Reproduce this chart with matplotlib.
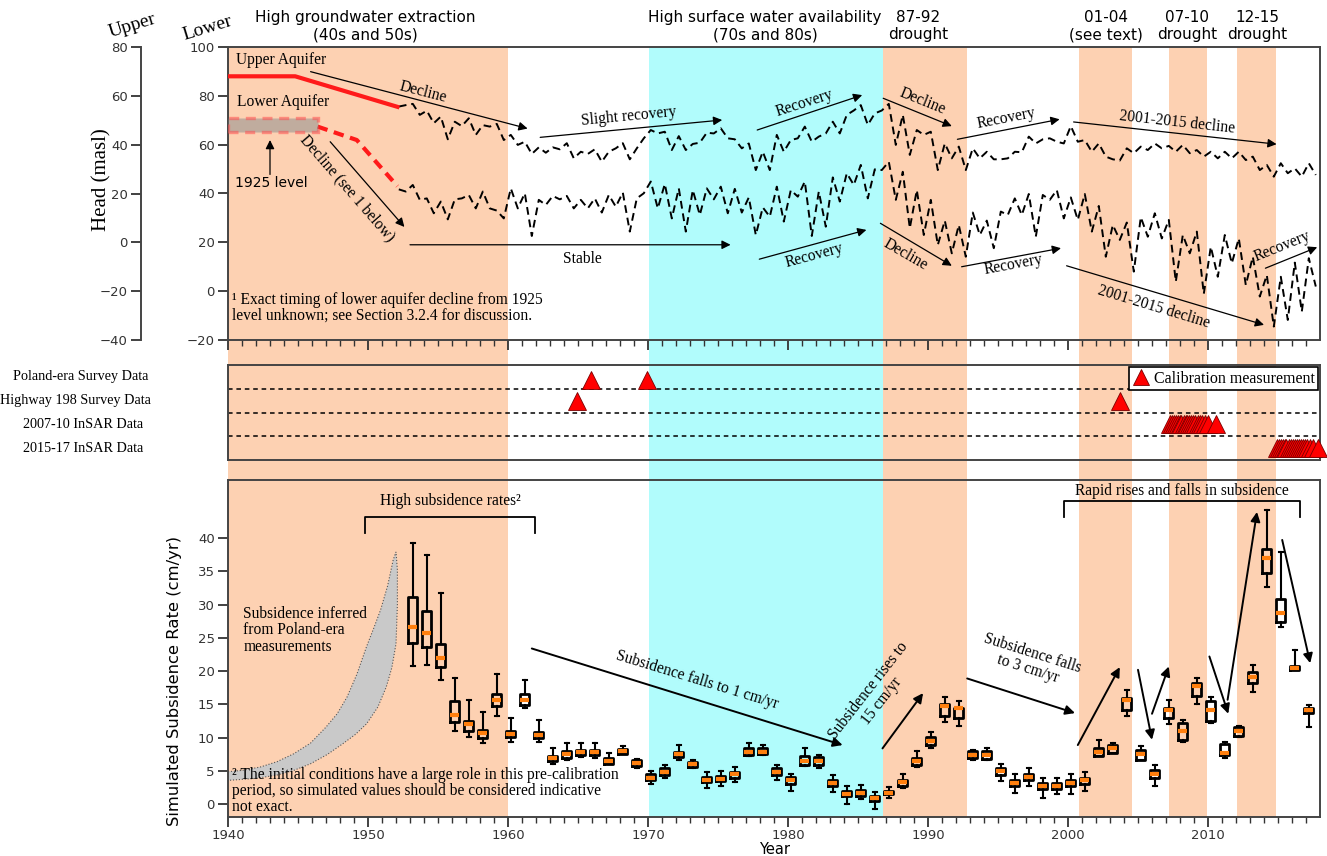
import numpy as np
import matplotlib
matplotlib.use('Agg')
import matplotlib.pyplot as plt
import matplotlib.transforms as mtransforms
from matplotlib.patches import Rectangle
from matplotlib.lines import Line2D

# ---- hydraulic head, half-yearly samples starting 1952.2 (masl, lower-aquifer scale)
head_start = 1952.2
head_step = 0.5
upper_head = [75.6, 76.2, 76.7, 72.2, 73.9, 68.8, 71.5, 62.2, 69.4, 67.6,
              70.8, 64.0, 68.0, 67.4, 68.5, 61.9, 64.0, 59.9, 61.2, 56.2,
              58.9, 56.7, 58.9, 58.1, 60.6, 54.4, 57.1, 56.2, 58.1, 53.0,
              57.1, 58.5, 60.6, 54.0, 58.5, 62.6, 66.0, 64.6, 65.3, 57.8,
              63.5, 57.8, 60.3, 60.8, 64.9, 64.6, 66.7, 62.6, 62.2, 58.5,
              60.5, 49.6, 57.1, 49.6, 64.0, 57.1, 61.9, 62.6, 67.4, 61.2,
              63.3, 64.6, 69.4, 64.6, 72.2, 74.0, 76.2, 68.1, 72.8, 74.0,
              76.7, 59.9, 72.2, 55.8, 66.0, 64.0, 65.3, 49.6, 60.5, 54.4,
              59.2, 49.6, 58.5, 54.4, 57.1, 54.0, 54.0, 54.4, 57.1, 56.9,
              63.3, 60.5, 62.2, 62.6, 61.2, 60.5, 67.6, 61.2, 61.9, 57.1,
              60.5, 55.1, 54.0, 53.5, 58.5, 56.5, 59.2, 57.8, 60.5, 58.5,
              59.5, 57.1, 59.9, 56.5, 57.8, 55.1, 57.1, 54.4, 57.1, 54.4,
              57.1, 53.7, 55.1, 49.6, 51.7, 46.9, 52.4, 48.3, 50.3, 46.9,
              52.4, 47.6]
lower_head = [41.7, 40.8, 43.5, 37.4, 38.0, 31.9, 36.7, 29.4, 37.6, 38.0,
              39.4, 33.9, 40.8, 33.9, 33.0, 29.8, 42.1, 33.9, 40.1, 22.6,
              37.4, 35.3, 39.0, 37.6, 39.0, 33.9, 37.4, 33.9, 38.0, 32.2,
              39.4, 34.6, 40.4, 24.4, 38.0, 40.1, 44.9, 33.9, 43.9, 29.8,
              42.1, 24.4, 41.4, 31.2, 42.1, 37.6, 42.8, 31.9, 41.9, 32.2,
              38.4, 23.0, 34.3, 30.5, 42.8, 28.5, 41.4, 38.7, 44.9, 22.6,
              40.8, 26.4, 46.6, 36.7, 48.3, 43.5, 51.7, 38.0, 49.9, 49.6,
              53.0, 37.4, 48.9, 25.8, 41.4, 23.0, 37.4, 18.9, 28.9, 15.5,
              27.1, 14.1, 32.2, 23.0, 28.9, 17.6, 32.6, 31.2, 38.0, 31.2,
              39.8, 22.3, 39.4, 37.4, 41.4, 29.8, 38.4, 29.2, 39.8, 24.4,
              34.9, 14.1, 27.1, 21.0, 28.1, 8.0, 30.3, 22.3, 31.9, 21.6,
              29.2, 3.9, 23.0, 15.5, 24.4, -1.1, 18.2, 5.9, 23.0, 11.4,
              21.6, 2.5, 14.1, -2.2, 6.6, -14.5, 5.9, -11.8, 11.7, -8.4,
              13.5, 1.9]

# early pre-record heads
upper_early_yr = [1940.0, 1944.8, 1952.1]
upper_early_head = [88.0, 88.0, 75.5]
lower_early_yr = [1946.4, 1949.2, 1952.1]
lower_early_head = [67.4, 61.9, 43.0]
level_1925 = (65.3, 70.8)          # head range of the 1925 level
level_1925_end = 1946.4

# ---- climate periods
dry_periods = [(1940.0, 1960.0), (1986.8, 1992.8), (2000.75, 2004.6),
               (2007.2, 2009.9), (2012.1, 2014.85)]
wet_periods = [(1970.05, 1986.8)]

# ---- calibration data availability
poland_yr = [1965.9, 1969.9]
hwy198_yr = [1964.9, 2003.7]
insar_0710_yr = [2007.3, 2007.45, 2007.6, 2007.7, 2007.85, 2008.0, 2008.1,
                 2008.25, 2008.4, 2008.5, 2008.65, 2008.8, 2008.95, 2009.1,
                 2009.3, 2009.45, 2009.6, 2009.8, 2010.0, 2010.6]
insar_1517_yr = [2014.9, 2015.05, 2015.2, 2015.35, 2015.5, 2015.6, 2015.75,
                 2015.9, 2016.05, 2016.2, 2016.35, 2016.5, 2016.65, 2016.8,
                 2016.95, 2017.1, 2017.3, 2017.5, 2017.85]
data_rows = ['Poland-era Survey Data', 'Highway 198 Survey Data',
             '2007-10 InSAR Data', '2015-17 InSAR Data']

# ---- simulated subsidence rate (cm/yr) box statistics
sub_years = list(range(1953, 2018))
sub_med = [26.6, 25.7, 21.9, 13.4, 12.0, 10.7, 15.7, 10.5, 15.7, 10.4,
           7.0, 7.6, 7.8, 7.8, 6.5, 8.0, 6.2, 4.0, 4.85, 7.5,
           6.0, 3.7, 3.85, 4.5, 7.9, 7.9, 4.85, 3.6, 6.5, 6.5,
           3.2, 1.6, 1.7, 0.95, 1.75, 3.3, 6.5, 9.5, 14.7, 14.4,
           7.4, 7.4, 4.95, 3.2, 4.1, 2.8, 2.8, 3.2, 3.6, 7.9,
           8.4, 15.6, 7.5, 4.5, 14.1, 11.0, 17.7, 14.2, 7.7, 11.0,
           19.1, 37.0, 28.7, 20.5, 14.1]
sub_q1 = [24.3, 23.7, 20.6, 12.4, 11.0, 10.0, 14.7, 10.1, 14.9, 10.0,
          6.5, 6.9, 7.4, 7.4, 6.1, 7.6, 5.8, 3.7, 4.4, 7.1,
          5.6, 3.3, 3.5, 4.0, 7.4, 7.5, 4.4, 3.1, 5.9, 5.9,
          2.7, 1.2, 1.3, 0.5, 1.5, 2.8, 5.9, 8.9, 13.2, 12.9,
          6.9, 6.8, 4.4, 2.8, 3.6, 2.3, 2.3, 2.7, 3.0, 7.3,
          7.7, 14.2, 6.7, 4.0, 13.0, 9.6, 16.2, 12.5, 7.4, 10.3,
          18.2, 34.7, 27.4, 20.2, 13.7]
sub_q3 = [31.2, 29.0, 24.1, 15.5, 12.5, 11.2, 16.5, 11.0, 16.6, 10.8,
          7.2, 8.0, 8.1, 8.2, 6.9, 8.3, 6.6, 4.5, 5.4, 7.9,
          6.4, 4.1, 4.2, 4.9, 8.4, 8.4, 5.4, 4.1, 7.2, 7.1,
          3.6, 2.0, 2.1, 1.3, 2.0, 3.7, 7.0, 10.1, 15.1, 14.5,
          8.0, 8.0, 5.5, 3.7, 4.5, 3.2, 3.2, 3.7, 4.0, 8.4,
          8.9, 15.9, 8.1, 5.2, 14.4, 12.2, 18.2, 15.5, 9.1, 11.6,
          19.8, 38.4, 30.9, 20.8, 14.5]
sub_lo = [20.8, 20.9, 18.7, 11.0, 10.1, 9.2, 13.2, 9.4, 14.4, 9.4,
          6.1, 6.7, 7.1, 7.0, 6.1, 7.5, 5.5, 3.1, 4.0, 6.6,
          5.4, 2.5, 2.8, 3.4, 7.2, 7.4, 3.7, 2.0, 5.7, 5.5,
          1.9, 0.1, 0.86, -0.65, 1.0, 2.5, 5.6, 8.4, 12.3, 11.7,
          6.7, 6.7, 3.5, 1.7, 2.7, 0.9, 1.6, 1.5, 2.0, 7.2,
          7.7, 13.2, 6.6, 2.7, 12.0, 9.4, 15.0, 12.2, 7.0, 10.1,
          16.9, 32.6, 26.7, 20.2, 11.6]
sub_hi = [39.3, 37.5, 31.7, 18.9, 15.7, 13.9, 19.6, 13.0, 18.6, 12.7,
          8.4, 9.2, 9.2, 9.2, 7.7, 8.7, 6.8, 5.0, 5.9, 8.9,
          6.7, 4.9, 5.0, 5.6, 9.2, 8.9, 5.9, 4.6, 8.5, 7.4,
          4.4, 2.7, 2.9, 1.9, 2.6, 4.5, 8.0, 10.8, 16.1, 15.5,
          8.2, 8.5, 6.0, 4.5, 5.5, 4.0, 4.0, 4.6, 4.9, 9.6,
          9.2, 17.1, 8.7, 5.9, 15.7, 12.6, 18.9, 16.1, 9.4, 11.8,
          20.9, 44.2, 37.9, 23.1, 14.9]

# subsidence inferred from Poland-era measurements (envelope)
inferred_top_x = [1940.0, 1941.0, 1942.3, 1943.5, 1944.7, 1945.9, 1947.0, 1947.8,
                  1948.5, 1949.2, 1949.9, 1950.4, 1950.9, 1951.4, 1951.8, 1952.0]
inferred_top_y = [4.9, 5.1, 5.6, 6.4, 7.6, 9.2, 11.6, 13.6,
                  16.1, 19.5, 23.7, 26.4, 29.2, 32.8, 36.7, 37.9]
inferred_bot_x = [1952.1, 1952.1, 1952.0, 1951.7, 1951.3, 1950.7, 1949.9, 1949.1,
                  1948.2, 1947.1, 1945.9, 1944.7, 1943.5, 1942.0, 1940.0]
inferred_bot_y = [35.2, 30.0, 24.1, 20.5, 17.6, 14.6, 12.1, 10.5,
                  9.1, 7.5, 6.1, 5.1, 4.4, 3.9, 3.6]

# ---------------------------------------------------------------------------
W, H = 1327, 856
DRY = '#fdd1b2'
WET = '#b1fcfc'
SERIF = 'Liberation Serif'
plt.rcParams['font.family'] = 'DejaVu Sans'


def frame(px_left, px_top, px_right, px_bottom):
    return [px_left / W, 1 - px_bottom / H, (px_right - px_left) / W, (px_bottom - px_top) / H]


fig = plt.figure(figsize=(W / 100, H / 100), dpi=100)

# background shading shared by all three panels
ax_bg = fig.add_axes(frame(228, 47, 1320, 817))
ax_bg.set_xlim(1940, 2018)
ax_bg.set_ylim(0, 1)
ax_bg.axis('off')
for a, b in dry_periods:
    ax_bg.axvspan(a, b, color=DRY, lw=0)
for a, b in wet_periods:
    ax_bg.axvspan(a, b, color=WET, lw=0)

ax_top = fig.add_axes(frame(228, 47, 1320, 340))
ax_mid = fig.add_axes(frame(228, 365, 1320, 460))
ax_bot = fig.add_axes(frame(228, 480, 1320, 817))
for ax in (ax_top, ax_mid, ax_bot):
    ax.set_facecolor('none')
    ax.set_xlim(1940, 2018)
    for s in ax.spines.values():
        s.set_color('#444444')
        s.set_linewidth(1.4)

for ax in (ax_top, ax_bot):
    ax.set_xticks(range(1940, 2011, 10))
    ax.set_xticks(range(1940, 2018), minor=True)
    ax.tick_params(axis='both', which='major', length=7, width=1.3, colors='#333333',
                   labelsize=9.5, direction='out', pad=2.5)
    ax.tick_params(axis='x', which='minor', length=4, width=1.0, color='#333333')
ax_top.tick_params(labelbottom=False)
ax_bot.tick_params(axis='x', pad=1.5)

# ---- top panel: heads
ax_top.set_ylim(-20, 100)
ax_top.set_yticks(range(-20, 101, 20))
t = head_start + head_step * np.arange(len(upper_head))
ax_top.plot(t, upper_head, color='k', lw=1.4, ls=(0, (4, 2.5)), zorder=3)
ax_top.plot(t, lower_head, color='k', lw=1.4, ls=(0, (4, 2.5)), zorder=3)
ax_top.plot(upper_early_yr, upper_early_head, color='#ff1a1a', lw=3, zorder=4)
ax_top.plot(lower_early_yr, lower_early_head, color='#ff1a1a', lw=3, ls=(0, (2.5, 1.6)), zorder=4)
ax_top.add_patch(Rectangle((1940, level_1925[0]), level_1925_end - 1940,
                           level_1925[1] - level_1925[0], facecolor='#8f8f8f', alpha=0.55,
                           edgecolor='#ff5050', lw=2.4, ls=(0, (3, 2)), zorder=4))

# left axis for the upper aquifer
ax_up = ax_top.twinx()
ax_up.set_ylim(-40, 80)
ax_up.set_yticks(range(-40, 81, 20))
ax_up.yaxis.tick_left()
for name in ('right', 'top', 'bottom'):
    ax_up.spines[name].set_visible(False)
ax_up.spines['left'].set_position(('axes', -0.0797))
ax_up.spines['left'].set_color('#444444')
ax_up.spines['left'].set_linewidth(1.4)
ax_up.tick_params(axis='y', length=7, width=1.3, colors='#333333', labelsize=9.5, pad=2.5)

serif = dict(family=SERIF, fontsize=11.2)
arrow_thin = dict(arrowstyle='-|>', color='k', lw=0.9, mutation_scale=13, shrinkA=0, shrinkB=0)


def arrow(ax, start, end, props=arrow_thin):
    ax.annotate('', xy=end, xytext=start, arrowprops=props, zorder=5)


ax_top.text(1940.6, 94.7, 'Upper Aquifer', ha='left', va='center', **serif)
ax_top.text(1940.65, 77.5, 'Lower Aquifer', ha='left', va='center', **serif)
ax_top.text(1943.1, 44.3, '1925 level', ha='center', va='center', fontsize=10)
arrow(ax_top, (1943.0, 47.8), (1943.0, 61.9))

arrow(ax_top, (1945.9, 89.9), (1961.4, 66.6))
ax_top.text(1953.9, 81.4, 'Decline', rotation=-14.5, ha='center', va='center', **serif)
arrow(ax_top, (1947.3, 61.2), (1952.6, 26.3))
ax_top.text(1948.5, 42.0, 'Decline (see 1 below)', rotation=-49, ha='center', va='center', **serif)
arrow(ax_top, (1953.0, 19.0), (1975.9, 19.0))
ax_top.text(1965.3, 13.1, 'Stable', ha='center', va='center', **serif)
arrow(ax_top, (1962.3, 63.0), (1975.3, 70.1))
ax_top.text(1968.6, 71.6, 'Slight recovery', rotation=5.5, ha='center', va='center', **serif)
arrow(ax_top, (1977.8, 66.0), (1985.3, 80.3))
ax_top.text(1981.2, 76.9, 'Recovery', rotation=18, ha='center', va='center', **serif)
arrow(ax_top, (1977.95, 13.1), (1985.6, 25.1))
ax_top.text(1981.9, 14.6, 'Recovery', rotation=15, ha='center', va='center', **serif)
arrow(ax_top, (1986.8, 79.0), (1991.7, 67.6))
ax_top.text(1989.6, 77.6, 'Decline', rotation=-22, ha='center', va='center', **serif)
arrow(ax_top, (1992.1, 62.2), (1999.4, 70.4))
ax_top.text(1995.6, 70.8, 'Recovery', rotation=11, ha='center', va='center', **serif)
arrow(ax_top, (2000.4, 69.3), (2014.9, 60.2))
ax_top.text(2007.8, 69.0, '2001-2015 decline', rotation=-6.3, ha='center', va='center', **serif)
arrow(ax_top, (1986.6, 27.8), (1991.7, 10.4))
ax_top.text(1988.4, 14.8, 'Decline', rotation=-30, ha='center', va='center', **serif)
arrow(ax_top, (1992.4, 10.0), (1999.5, 17.6))
ax_top.text(1996.1, 10.7, 'Recovery', rotation=10.4, ha='center', va='center', **serif)
arrow(ax_top, (1999.9, 10.4), (2014.0, -13.8))
ax_top.text(2006.1, -6.3, '2001-2015 decline', rotation=-16.8, ha='center', va='center', **serif)
arrow(ax_top, (2014.1, 9.4), (2017.8, 18.0))
ax_top.text(2015.3, 18.2, 'Recovery', rotation=22, ha='center', va='center', **serif)
ax_top.text(1940.3, -0.2, '¹ Exact timing of lower aquifer decline from 1925\n'
            'level unknown; see Section 3.2.4 for discussion.',
            ha='left', va='top', linespacing=1.0, **serif)

# ---- middle panel: calibration data
ax_mid.set_ylim(0, 4)
ax_mid.set_xticks([])
ax_mid.set_yticks([])
for yl in (1, 2, 3):
    ax_mid.axhline(yl, color='k', lw=1.1, ls=(0, (3, 2.5)))
tri = dict(marker='^', ls='none', ms=13, mfc='red', mec='#7a0000', mew=0.6, clip_on=False, zorder=4)
ax_mid.plot(poland_yr, [3.38] * len(poland_yr), **tri)
ax_mid.plot(hwy198_yr, [2.5] * len(hwy198_yr), **tri)
ax_mid.plot(insar_0710_yr, [1.5] * len(insar_0710_yr), **tri)
ax_mid.plot(insar_1517_yr, [0.5] * len(insar_1517_yr), **tri)
lbl_tf = mtransforms.blended_transform_factory(ax_mid.transAxes, ax_mid.transData)
label_x = [-0.1346, -0.1400, -0.1330, -0.1330]
for i, name in enumerate(data_rows):
    ax_mid.text(label_x[i], 3.5 - i, name, transform=lbl_tf, ha='center', va='center',
                family=SERIF, fontsize=10.2)
handle = Line2D([], [], marker='^', ls='none', ms=12, mfc='red', mec='#7a0000', mew=0.6)
leg = ax_mid.legend([handle], ['Calibration measurement'], loc='upper right',
                    borderaxespad=0.15, fancybox=False, framealpha=1, edgecolor='k',
                    handlelength=1.1, handletextpad=0.25, borderpad=0.2,
                    prop=dict(family=SERIF, size=11.5))
leg.get_frame().set_linewidth(1.2)

# ---- bottom panel: simulated subsidence
ax_bot.set_ylim(-1.9, 48.7)
ax_bot.set_yticks(range(0, 41, 5))
ax_bot.fill(inferred_top_x + inferred_bot_x, inferred_top_y + inferred_bot_y,
            facecolor='#c9c9c9', edgecolor='#555555', lw=0.8, ls=':', zorder=2)
stats = [dict(med=m, q1=a, q3=b, whislo=lo, whishi=hi, fliers=[])
         for m, a, b, lo, hi in zip(sub_med, sub_q1, sub_q3, sub_lo, sub_hi)]
ax_bot.bxp(stats, positions=np.array(sub_years) + 0.2, widths=0.66, capwidths=0.32,
           manage_ticks=False,
           boxprops=dict(color='k', lw=2.0),
           whiskerprops=dict(color='k', lw=1.5),
           capprops=dict(color='k', lw=1.5),
           medianprops=dict(color='#ff7f0e', lw=3.0, solid_capstyle='butt', zorder=3.5))

ax_bot.plot([1949.8, 1949.8, 1961.9, 1961.9], [40.7, 43.1, 43.1, 40.7], color='k', lw=1.3)
ax_bot.text(1955.9, 45.6, 'High subsidence rates²', ha='center', va='center', **serif)
ax_bot.plot([1999.7, 1999.7, 2016.6, 2016.6], [43.1, 45.5, 45.5, 43.1], color='k', lw=1.3)
ax_bot.text(2008.1, 47.0, 'Rapid rises and falls in subsidence', ha='center', va='center', **serif)
ax_bot.text(1941.1, 29.8, 'Subsidence inferred\nfrom Poland-era\nmeasurements',
            ha='left', va='top', linespacing=1.05, **serif)
ax_bot.text(1940.25, 5.6, '² The initial conditions have a large role in this pre-calibration\n'
            'period, so simulated values should be considered indicative\nnot exact.',
            ha='left', va='top', linespacing=1.0, zorder=6, **serif)

arrow_bold = dict(arrowstyle='-|>', color='k', lw=1.4, mutation_scale=14, shrinkA=0, shrinkB=0)
arrow(ax_bot, (1961.7, 23.4), (1983.9, 8.9), arrow_bold)
ax_bot.text(1973.5, 18.6, 'Subsidence falls to 1 cm/yr', rotation=-17, ha='center', va='center', **serif)
arrow(ax_bot, (1986.75, 8.4), (1989.65, 16.7), arrow_bold)
ax_bot.text(1986.2, 16.3, 'Subsidence rises to\n15 cm/yr', rotation=52, ha='center', va='center',
            linespacing=1.1, **serif)
arrow(ax_bot, (1992.8, 18.9), (2000.5, 13.7), arrow_bold)
ax_bot.text(1997.3, 21.5, 'Subsidence falls\nto 3 cm/yr', rotation=-17.5, ha='center', va='center',
            linespacing=1.1, **serif)
rapid_arrows = [((2000.7, 8.9), (2003.7, 20.6)), ((2005.0, 20.2), (2006.0, 9.7)),
                ((2006.0, 13.6), (2007.2, 20.7)), ((2010.1, 22.2), (2011.45, 13.6)),
                ((2011.4, 15.7), (2013.5, 43.9)), ((2015.3, 39.7), (2017.3, 21.2))]
for s, e in rapid_arrows:
    arrow(ax_bot, s, e, arrow_bold)

# ---- figure labels
fig.text(775 / W, 1 - 849 / H, 'Year', ha='center', va='center', fontsize=10.5)
fig.text(102 / W, 1 - 180 / H, 'Head (masl)', rotation=90, ha='center', va='center',
         family=SERIF, fontsize=15)
fig.text(175 / W, 1 - 681 / H, 'Simulated Subsidence Rate (cm/yr)', rotation=90,
         ha='center', va='center', fontsize=11.8)
fig.text(132 / W, 1 - 26 / H, 'Upper', rotation=17, ha='center', va='center', family=SERIF, fontsize=14)
fig.text(207 / W, 1 - 28 / H, 'Lower', rotation=17, ha='center', va='center', family=SERIF, fontsize=14)

headers = [(365, 'High groundwater extraction\n(40s and 50s)'),
           (765, 'High surface water availability\n(70s and 80s)'),
           (918, '87-92\ndrought'),
           (1106, '01-04\n(see text)'),
           (1187, '07-10\ndrought'),
           (1257, '12-15\ndrought')]
for px, label in headers:
    fig.text(px / W, 1 - 26 / H, label, ha='center', va='center', fontsize=11, linespacing=1.2)

fig.savefig('out.png', dpi=100)
